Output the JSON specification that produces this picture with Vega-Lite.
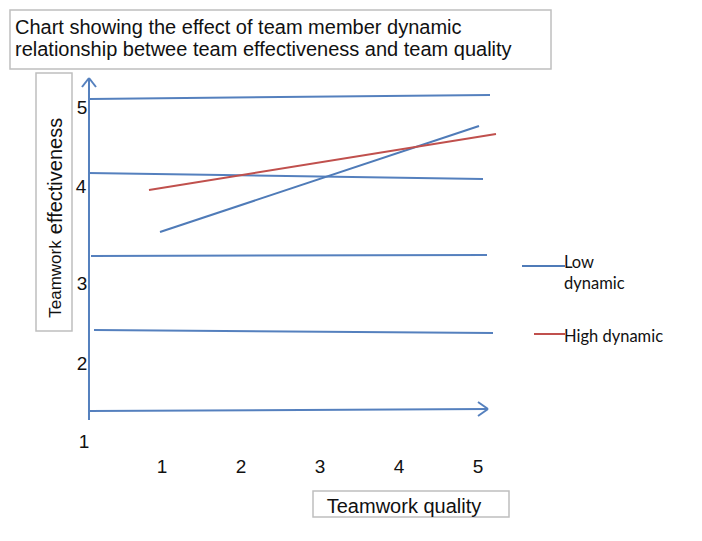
{
  "$schema": "https://vega.github.io/schema/vega-lite/v6.json",
  "width": 702,
  "height": 541,
  "autosize": {"type": "none"},
  "padding": 0,
  "background": "white",
  "config": {"view": {"stroke": null}, "axis": {"disable": true}},
  "datasets": {
    "boxes": [
      {"box": "title", "x": -0.9241, "x2": 5.9241, "y": 6.1083, "y2": 5.3567},
      {"box": "ytitle", "x": -0.5949, "x2": -0.1392, "y": 5.3057, "y2": 2.0191},
      {"box": "xtitle", "x": 2.9114, "x2": 5.3924, "y": -0.0191, "y2": -0.3503}
    ],
    "segments": [
      {"part": "grid", "x": 0.0886, "y": 4.9745, "x2": 5.1519, "y2": 5.0255},
      {"part": "grid", "x": 0.0633, "y": 4.0318, "x2": 5.0633, "y2": 3.9554},
      {"part": "grid", "x": 0.1013, "y": 2.9745, "x2": 5.1139, "y2": 2.9873},
      {"part": "grid", "x": 0.1392, "y": 2.0318, "x2": 5.1899, "y2": 1.9936},
      {"part": "grid", "x": 0.0759, "y": 1.0, "x2": 5.1266, "y2": 1.0255},
      {"part": "grid", "x": 0.0759, "y": 5.242, "x2": 0.0759, "y2": 0.8854},
      {"part": "grid", "x": 0.0759, "y": 5.242, "x2": -0.0127, "y2": 5.1274},
      {"part": "grid", "x": 0.0759, "y": 5.242, "x2": 0.1646, "y2": 5.1274},
      {"part": "grid", "x": 5.1266, "y": 1.0255, "x2": 5.0, "y2": 1.1146},
      {"part": "grid", "x": 5.1266, "y": 1.0255, "x2": 5.0, "y2": 0.9363},
      {"part": "Low dynamic", "x": 0.9747, "y": 3.2803, "x2": 5.0127, "y2": 4.6306},
      {"part": "High dynamic", "x": 0.8354, "y": 3.8153, "x2": 5.2278, "y2": 4.5287},
      {"part": "Low dynamic", "x": 5.557, "y": 2.8471, "x2": 6.1013, "y2": 2.8471},
      {"part": "High dynamic", "x": 5.7089, "y": 1.9809, "x2": 6.1013, "y2": 1.9809}
    ],
    "ticks": [
      {"label": "5", "x": -0.0127, "y": 4.8599},
      {"label": "4", "x": -0.0253, "y": 3.8535},
      {"label": "3", "x": -0.0127, "y": 2.6178},
      {"label": "2", "x": -0.0127, "y": 1.5987},
      {"label": "1", "x": 0.0127, "y": 0.6051},
      {"label": "1", "x": 1, "y": 0.2866},
      {"label": "2", "x": 2, "y": 0.2866},
      {"label": "3", "x": 3, "y": 0.2866},
      {"label": "4", "x": 4, "y": 0.2866},
      {"label": "5", "x": 5, "y": 0.2866}
    ],
    "titles": [
      {"label": "Chart showing the effect of team member dynamic", "x": -0.8608, "y": 5.879},
      {"label": "relationship betwee team effectiveness and team quality", "x": -0.8608, "y": 5.5987}
    ],
    "legendText": [
      {"label": "Low", "x": 6.0886, "y": 2.8854},
      {"label": "dynamic", "x": 6.0886, "y": 2.6178},
      {"label": "High dynamic", "x": 6.0886, "y": 1.9427}
    ]
  },
  "layer": [
    {
      "data": {"name": "boxes"},
      "mark": {"type": "rect", "fill": "white", "stroke": "#BFBFBF", "strokeWidth": 1.5},
      "encoding": {
        "x": {"field": "x", "type": "quantitative", "scale": {"domain": [-1.0506, 7.8354], "nice": false, "zero": false}},
        "x2": {"field": "x2"},
        "y": {"field": "y", "type": "quantitative", "scale": {"domain": [-0.6561, 6.2357], "nice": false, "zero": false}},
        "y2": {"field": "y2"}
      }
    },
    {
      "data": {"name": "segments"},
      "mark": {"type": "rule", "strokeWidth": 2},
      "encoding": {
        "x": {"field": "x", "type": "quantitative"},
        "x2": {"field": "x2"},
        "y": {"field": "y", "type": "quantitative"},
        "y2": {"field": "y2"},
        "color": {"field": "part", "type": "nominal", "legend": null,
          "scale": {"domain": ["grid", "Low dynamic", "High dynamic"], "range": ["#5580BE", "#4F7BB8", "#C0504D"]}}
      }
    },
    {
      "data": {"name": "ticks"},
      "mark": {"type": "text", "font": "Liberation Sans", "fontSize": 19, "color": "#111111", "align": "center", "baseline": "middle"},
      "encoding": {
        "x": {"field": "x", "type": "quantitative"},
        "y": {"field": "y", "type": "quantitative"},
        "text": {"field": "label"}
      }
    },
    {
      "data": {"name": "titles"},
      "mark": {"type": "text", "font": "Liberation Sans", "fontSize": 20, "color": "#111111", "align": "left", "baseline": "middle"},
      "encoding": {
        "x": {"field": "x", "type": "quantitative"},
        "y": {"field": "y", "type": "quantitative"},
        "text": {"field": "label"}
      }
    },
    {
      "data": {"values": [{"label": "Teamwork", "x": -0.3418, "y": 2.6815}]},
      "mark": {"type": "text", "font": "Liberation Sans", "fontSize": 17, "angle": 270, "color": "#111111", "align": "center", "baseline": "middle"},
      "encoding": {
        "x": {"field": "x", "type": "quantitative"},
        "y": {"field": "y", "type": "quantitative"},
        "text": {"field": "label"}
      }
    },
    {
      "data": {"values": [{"label": "effectiveness", "x": -0.3418, "y": 3.9936}]},
      "mark": {"type": "text", "font": "Liberation Sans", "fontSize": 20, "angle": 270, "color": "#111111", "align": "center", "baseline": "middle"},
      "encoding": {
        "x": {"field": "x", "type": "quantitative"},
        "y": {"field": "y", "type": "quantitative"},
        "text": {"field": "label"}
      }
    },
    {
      "data": {"values": [{"label": "Teamwork quality", "x": 4.0633, "y": -0.2229}]},
      "mark": {"type": "text", "font": "Liberation Sans", "fontSize": 20, "color": "#111111", "align": "center", "baseline": "middle"},
      "encoding": {
        "x": {"field": "x", "type": "quantitative"},
        "y": {"field": "y", "type": "quantitative"},
        "text": {"field": "label"}
      }
    },
    {
      "data": {"name": "legendText"},
      "mark": {"type": "text", "font": "Lato", "fontSize": 16.5, "color": "#111111", "align": "left", "baseline": "middle"},
      "encoding": {
        "x": {"field": "x", "type": "quantitative"},
        "y": {"field": "y", "type": "quantitative"},
        "text": {"field": "label"}
      }
    }
  ]
}
